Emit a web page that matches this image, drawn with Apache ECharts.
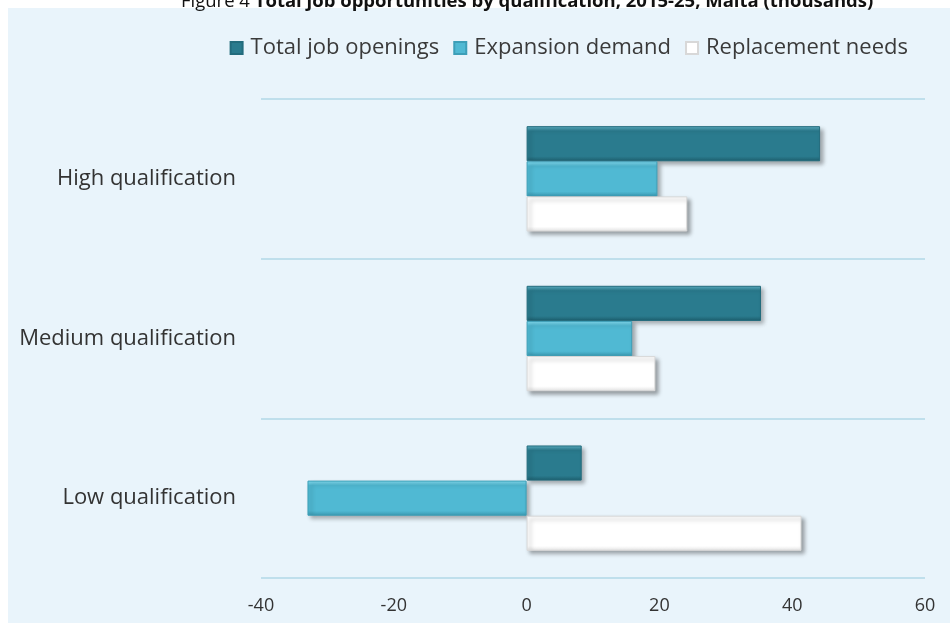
<!DOCTYPE html>
<html>
<head>
<meta charset="utf-8">
<script src="https://cdn.jsdelivr.net/npm/echarts@6/dist/echarts.min.js"></script>
<style>html,body{margin:0;padding:0;background:#fff}#c{width:950px;height:623px}</style>
</head>
<body>
<div id="c"></div>
<script>
var categories = ['High qualification', 'Medium qualification', 'Low qualification'];
var totalOpenings = [44.2, 35.3, 8.3];
var expansionDemand = [19.7, 15.9, -33.0];
var replacementNeeds = [24.2, 19.4, 41.4];
var xTicks = [-40, -20, 0, 20, 40, 60];

function grad(light, main, dark) {
  return new echarts.graphic.LinearGradient(0, 0, 0, 1, [
    {offset: 0, color: light}, {offset: 0.14, color: main},
    {offset: 0.86, color: main}, {offset: 1, color: dark}
  ]);
}
var font = '"Open Sans", "Noto Sans", sans-serif';
var chart = echarts.init(document.getElementById('c'));
chart.setOption({
  backgroundColor: '#ffffff',
  animation: false,
  graphic: [{type: 'rect', shape: {x: 8, y: 8, width: 942, height: 615}, style: {fill: '#e9f4fb'}, z: -10}],
  title: {
    text: '{n|Figure 4 }{b|Total job opportunities by qualification, 2015-25, Malta (thousands)}',
    left: 176, top: -13,
    textStyle: {fontWeight: 'normal', rich: {
      n: {fontSize: 18.5, fontFamily: font, color: '#111', fontWeight: 'normal'},
      b: {fontSize: 18.5, fontFamily: font, color: '#111', fontWeight: 'bold'}
    }}
  },
  legend: {
    data: ['Total job openings', 'Expansion demand', 'Replacement needs'],
    right: 37, top: 32, itemWidth: 12, itemHeight: 12, itemGap: 14,
    icon: 'rect',
    textStyle: {fontSize: 22, fontFamily: font, color: '#3a3a3a', padding: [0, 0, 0, 3]}
  },
  grid: {left: 261, right: 25, top: 99, bottom: 45},
  xAxis: {
    type: 'value', min: xTicks[0], max: xTicks[xTicks.length - 1], interval: 20,
    axisLine: {show: false}, axisTick: {show: false}, splitLine: {show: false},
    axisLabel: {fontSize: 18, fontFamily: font, color: '#333', margin: 19}
  },
  yAxis: {
    type: 'category', data: categories, inverse: true,
    axisLine: {show: false}, axisTick: {show: false},
    splitLine: {show: true, lineStyle: {color: '#bfdfec', width: 2}},
    axisLabel: {fontSize: 22, fontFamily: font, color: '#333', margin: 25}
  },
  series: [
    {name: 'Total job openings', type: 'bar', data: totalOpenings, barGap: '0%', barCategoryGap: '34%',
     itemStyle: {color: grad('#5fb3c6', '#2a7b8e', '#1d5e6d'), borderColor: '#236c7d', borderWidth: 1,
       shadowColor: 'rgba(0,0,0,0.3)', shadowBlur: 4, shadowOffsetX: 3, shadowOffsetY: 3}},
    {name: 'Expansion demand', type: 'bar', data: expansionDemand,
     itemStyle: {color: grad('#84dcf0', '#50b9d3', '#3a98b0'), borderColor: '#3d9fb8', borderWidth: 1,
       shadowColor: 'rgba(0,0,0,0.3)', shadowBlur: 4, shadowOffsetX: 3, shadowOffsetY: 3}},
    {name: 'Replacement needs', type: 'bar', data: replacementNeeds,
     itemStyle: {color: grad('#ffffff', '#ffffff', '#e4e4e4'), borderColor: '#d8d8d8', borderWidth: 1,
       shadowColor: 'rgba(0,0,0,0.35)', shadowBlur: 4, shadowOffsetX: 3, shadowOffsetY: 3}}
  ]
});
</script>
</body>
</html>
